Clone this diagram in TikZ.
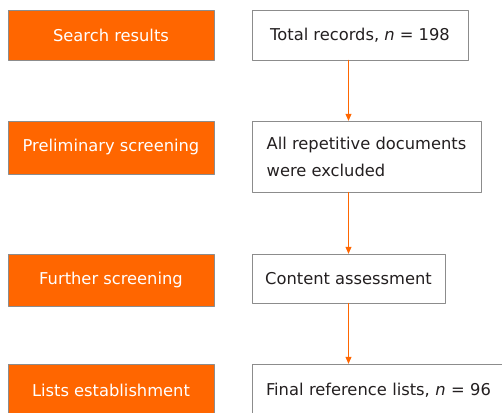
\documentclass[tikz,border=0pt]{standalone}
\usepackage{fontspec}
\setmainfont{DejaVu Sans}
\usetikzlibrary{arrows.meta}
\definecolor{stageorange}{HTML}{FF6600}
\definecolor{boxgray}{HTML}{8C8C8C}
\definecolor{inkdark}{HTML}{231F20}
\tikzset{
	stage/.style={draw=boxgray,fill=stageorange,text=white,minimum width=206pt,inner sep=0pt,font=\fontsize{16.3}{27}\selectfont},
	record/.style={draw=boxgray,fill=white,text=inkdark,inner sep=0pt,align=left,font=\fontsize{16.3}{27}\selectfont},
	flow/.style={-{Triangle[length=7pt,width=6pt]},draw=stageorange,line width=0.8pt}
}
\begin{document}
\begin{tikzpicture}[
	x=1pt,
	y=-1pt,
	line cap=round,
	line join=round
	]
	\useasboundingbox (0,0) rectangle (502,412);
	\clip (0,0) rectangle (502,412);
	% stages on the left
	\node[stage,minimum height=50pt] (s1) at (111,35) {Search results};
	\node[stage,minimum height=53pt] (s2) at (111,147.5) {Preliminary screening};
	\node[stage,minimum height=52pt] (s3) at (111,280) {Further screening};
	\node[stage,minimum height=52pt] (s4) at (111,390) {Lists establishment};
	% records on the right
	\node[record,minimum width=216pt,minimum height=50pt] (r1) at (360,35) {Total records, \textit{n} = 198};
	\node[record,minimum width=229pt,minimum height=71pt] (r2) at (366.5,156.5) {All repetitive documents\\were excluded};
	\node[record,minimum width=193pt,minimum height=49pt] (r3) at (348.5,278.5) {Content assessment};
	\node[record,minimum width=254pt,minimum height=52pt,text width=226pt] (r4) at (379,390) {Final reference lists, \textit{n} = 96};
	% arrows
	\begin{scope}[flow]
		\draw (r1.south -| r3.north) -- (r2.north -| r3.north);
		\draw (r2.south -| r3.north) -- (r3.north);
		\draw (r3.south) -- (r4.north -| r3.south);
	\end{scope}
\end{tikzpicture}
\end{document}
